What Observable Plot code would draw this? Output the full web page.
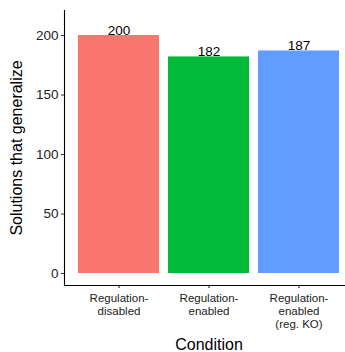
<!DOCTYPE html>
<html><head><meta charset="utf-8">
<script src="https://cdn.jsdelivr.net/npm/d3@7"></script>
<script src="https://cdn.jsdelivr.net/npm/@observablehq/plot@0.6"></script>
<style>body{margin:0;background:#fff;} svg{font-family:"Liberation Sans",Arial,sans-serif;}</style>
</head><body><div id="chart"></div>
<script>
const conditions = ["Regulation-disabled", "Regulation-enabled", "Regulation-enabled (reg. KO)"];
const tickLabels = ["Regulation-\ndisabled", "Regulation-\nenabled", "Regulation-\nenabled\n(reg. KO)"];
const values = [200, 182, 187];
const colors = ["#F8766D", "#00BA38", "#619CFF"];
const yTicks = [0, 50, 100, 150, 200];

const data = conditions.map((c, i) => ({condition: c, value: values[i]}));

const chart = Plot.plot({
  width: 345, height: 352,
  marginLeft: 64, marginRight: 0, marginTop: 10, marginBottom: 67,
  style: {fontFamily: "Liberation Sans, Arial, sans-serif", background: "#fff"},
  x: {domain: conditions, range: [64.5, 352.5], paddingInner: 0.1, paddingOuter: 0.15},
  y: {domain: [-10.08, 221]},
  color: {domain: conditions, range: colors},
  marks: [
    Plot.barY(data, {x: "condition", y: "value", fill: "condition"}),
    Plot.text(data, {x: "condition", y: "value", text: d => String(d.value), dy: -5, fontSize: 13.5, fill: "#000"}),
    Plot.frame({anchor: "left", stroke: "#000", strokeWidth: 1.1}),
    Plot.frame({anchor: "bottom", stroke: "#000", strokeWidth: 1.1}),
    Plot.axisY(yTicks, {tickSize: 3, tickPadding: 3, fontSize: 13.5, fill: "#222", label: null, stroke: "#333"}),
    Plot.axisX({tickSize: 3, tickPadding: 4, fontSize: 11.5, fill: "#222", label: null, lineHeight: 1.15,
      tickFormat: d => tickLabels[conditions.indexOf(d)]}),
    Plot.text(["Solutions that generalize"], {frameAnchor: "left", textAnchor: "middle", dx: -48, rotate: -90, fontSize: 16, fill: "#000"}),
    Plot.text(["Condition"], {frameAnchor: "bottom", dy: 64, fontSize: 16, fill: "#000", x: () => conditions[1]})
  ]
});
document.getElementById("chart").appendChild(chart);
</script></body></html>
